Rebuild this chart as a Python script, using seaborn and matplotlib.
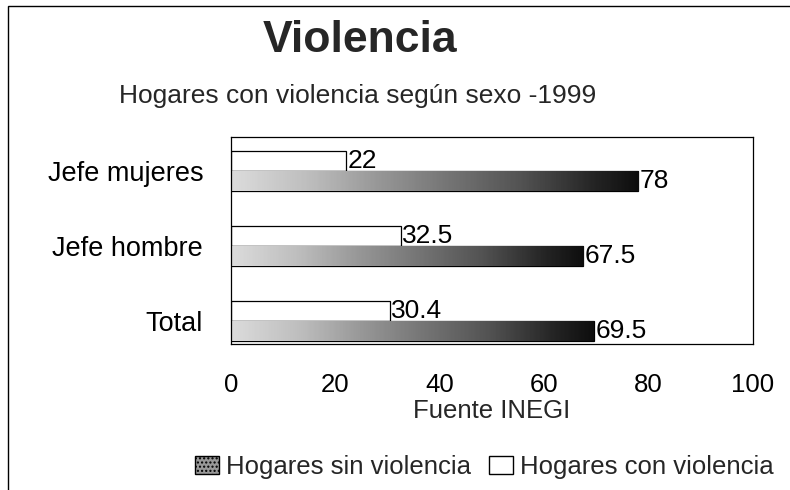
import matplotlib
matplotlib.use('Agg')
import matplotlib.pyplot as plt
import matplotlib.patches as mpatches
import numpy as np
import pandas as pd
import seaborn as sns

# Data
categorias = ['Jefe mujeres', 'Jefe hombre', 'Total']
con_violencia = [22, 32.5, 30.4]
sin_violencia = [78, 67.5, 69.5]
etiqueta_con = 'Hogares con violencia'
etiqueta_sin = 'Hogares sin violencia'
x_ticks = [0, 20, 40, 60, 80, 100]

df = pd.DataFrame({
    'categoria': categorias * 2,
    'valor': con_violencia + sin_violencia,
    'serie': [etiqueta_con] * 3 + [etiqueta_sin] * 3,
})

sns.set_theme(style='white')
plt.rcParams['font.family'] = ['Liberation Sans', 'DejaVu Sans']

fig = plt.figure(figsize=(7.9, 4.9), dpi=100)
ax = fig.add_axes([231 / 790, 1 - 344 / 490, (753 - 231) / 790, (344 - 137) / 490])

sns.barplot(data=df, y='categoria', x='valor', hue='serie', orient='h',
            hue_order=[etiqueta_con, etiqueta_sin], order=categorias,
            palette=['white', '#777777'], width=0.54, gap=0,
            edgecolor='black', linewidth=0.9, legend=False, ax=ax)

ax.set_xticks(x_ticks)
ax.tick_params(axis='both', length=0, colors='black')
ax.tick_params(axis='x', labelsize=18.5, pad=21)
ax.tick_params(axis='y', labelsize=19.5, pad=20)
ax.set_ylabel('')
ax.set_xlabel('Fuente INEGI', fontsize=18.5, labelpad=1)
for s in ax.spines.values():
    s.set_color('black')
    s.set_linewidth(0.9)

# textured look for "sin violencia" bars: grey gradient clipped to bar
grad = np.linspace(0.25, 1, 256).reshape(1, -1)
n = len(categorias)
for i, p in enumerate(list(ax.patches)):
    w = p.get_width()
    if i >= n:
        y0 = p.get_y()
        h = p.get_height()
        im = ax.imshow(grad, cmap='Greys', aspect='auto', vmin=0, vmax=1.05,
                       extent=[0, w, y0 + h, y0], zorder=p.get_zorder() + 0.1)
        im.set_clip_path(p)
        p.set_hatch('....')
    ax.text(w + 0.3, p.get_y() + p.get_height() * 0.5, f'{w:g}',
            fontsize=19, va='center', ha='left', color='black')
ax.set_xlim(0, 100)
ax.set_ylim(2.307, -0.453)

# Legend
h_sin = mpatches.Patch(facecolor='#999999', edgecolor='black', hatch='....', label=etiqueta_sin)
h_con = mpatches.Patch(facecolor='white', edgecolor='black', label=etiqueta_con)
fig.legend(handles=[h_sin, h_con], loc='center', bbox_to_anchor=(484 / 790, 1 - 467 / 490),
           ncol=2, frameon=False, fontsize=18.5, handlelength=0.95, handleheight=0.7,
           handletextpad=0.25, columnspacing=0.7, borderpad=0.2)

fig.text(360 / 790, 1 - 40 / 490, 'Violencia', fontsize=32, fontweight='bold',
         ha='center', va='center')
fig.text(358 / 790, 1 - 96 / 490, 'Hogares con violencia según sexo -1999', fontsize=19,
         ha='center', va='center')

# outer frame
fig.patches.append(mpatches.Rectangle((8 / 790, -0.01), 1, 1 - 6 / 490 + 0.01,
                                      transform=fig.transFigure, fill=False,
                                      edgecolor='black', linewidth=1))

fig.savefig('out.png', dpi=100)
